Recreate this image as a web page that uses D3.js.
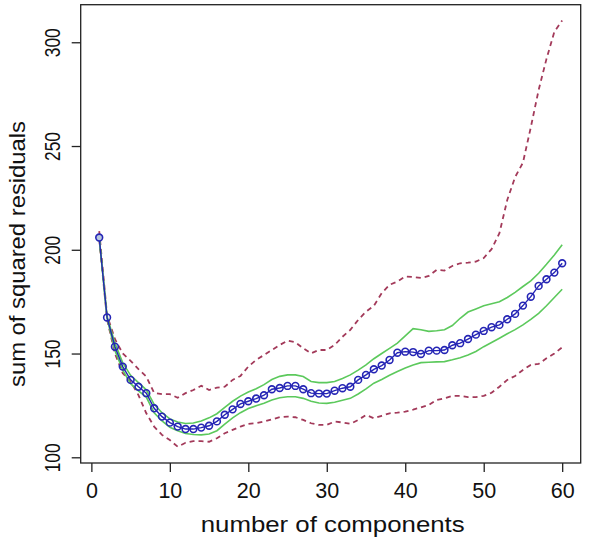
<!DOCTYPE html>
<html>
<head>
<meta charset="utf-8">
<script src="https://cdn.jsdelivr.net/npm/d3@7"></script>
<style>
  html, body { margin: 0; padding: 0; background: #fff; }
  svg { display: block; }
  text { font-family: "Liberation Sans", Arial, sans-serif; fill: #111; }
</style>
</head>
<body>
<svg id="chart" width="600" height="543"></svg>
<script>
// ---- data ----
const components = d3.range(1, 61);
const meanSSR = [205.9, 167.4, 153.3, 143.7, 137.3, 134.0, 130.9, 123.6, 119.6, 116.7,
  114.8, 113.6, 113.6, 114.3, 115.2, 117.3, 120.5, 123.1, 125.7, 127.0,
  128.3, 129.9, 132.8, 133.4, 134.4, 134.4, 132.8, 130.9, 130.7, 130.7,
  132.1, 133.3, 134.0, 137.3, 139.7, 142.4, 144.2, 146.9, 150.4, 150.9,
  150.7, 149.8, 151.4, 151.4, 151.7, 154.0, 155.0, 157.0, 159.1, 160.9,
  162.7, 163.8, 166.5, 169.1, 173.1, 177.4, 182.6, 185.8, 189.0, 193.5];
const upperInner = [206.0, 168.0, 155.0, 145.5, 139.5, 136.0, 132.5, 125.5, 121.5, 118.5,
  117.0, 116.3, 116.5, 117.5, 119.0, 121.0, 124.0, 127.0, 129.5, 131.5,
  133.0, 135.0, 137.5, 139.0, 139.7, 139.7, 138.9, 136.5, 136.0, 136.0,
  136.5, 138.0, 139.7, 142.0, 144.5, 147.5, 150.0, 152.5, 155.0, 158.5,
  162.0, 161.5, 160.7, 161.0, 161.5, 163.5, 167.0, 170.0, 171.5, 173.0,
  174.0, 175.0, 177.0, 179.5, 182.3, 185.0, 188.7, 193.0, 197.5, 202.4];
const lowerInner = [205.8, 167.0, 151.5, 142.0, 135.5, 132.0, 129.0, 121.5, 117.5, 114.5,
  112.8, 111.5, 111.0, 110.8, 111.2, 112.8, 116.0, 119.0, 121.5, 123.5,
  124.8, 126.0, 127.6, 128.7, 129.2, 129.2, 128.4, 127.0, 126.2, 126.0,
  126.5, 127.5, 128.4, 130.5, 133.0, 135.7, 137.5, 139.5, 141.3, 143.0,
  144.5, 145.6, 145.8, 146.0, 146.1, 147.0, 148.0, 149.3, 151.0, 153.3,
  155.3, 157.4, 159.5, 161.5, 163.8, 166.5, 169.4, 173.0, 177.0, 181.0];
const upperOuter = [209.0, 168.5, 157.0, 150.0, 146.5, 142.5, 138.9, 131.0, 130.4, 130.4,
  128.7, 130.9, 132.4, 134.5, 132.4, 133.6, 134.0, 137.3, 139.2, 143.7,
  146.9, 149.3, 151.7, 154.1, 156.2, 155.4, 152.5, 150.1, 151.7, 151.7,
  154.1, 158.1, 161.4, 166.2, 170.2, 173.0, 179.1, 183.1, 184.7, 187.1,
  186.9, 186.4, 187.4, 190.3, 190.0, 192.2, 193.5, 193.8, 194.3, 196.0,
  200.3, 208.0, 224.0, 235.0, 242.0, 259.0, 277.0, 292.0, 305.0, 310.5];
const lowerOuter = [205.0, 166.5, 150.0, 140.5, 136.5, 130.0, 121.2, 114.8, 110.8, 108.3,
  105.1, 107.0, 107.8, 107.8, 107.5, 109.2, 111.6, 113.2, 114.8, 116.1,
  116.4, 117.2, 118.3, 119.3, 119.6, 119.3, 118.0, 116.4, 115.6, 115.6,
  117.2, 116.8, 116.1, 118.0, 120.4, 118.8, 120.0, 121.2, 121.5, 122.0,
  123.0, 124.1, 125.2, 127.6, 128.4, 129.6, 129.6, 129.0, 129.0, 129.6,
  131.1, 134.0, 137.3, 139.2, 142.1, 144.5, 145.0, 147.7, 150.0, 153.0];
const xTicks = [0, 10, 20, 30, 40, 50, 60];
const yTicks = [100, 150, 200, 250, 300];
const xTitle = "number of components";
const yTitle = "sum of squared residuals";

// ---- layout ----
const box = { left: 80.7, right: 580.7, top: 4.7, bottom: 463 };
const svg = d3.select("#chart");

const x = d3.scaleLinear().domain([-1.36, 62.36]).range([box.left, box.right]);
const y = d3.scaleLinear().domain([97.25, 318.1]).range([box.bottom, box.top]);

// lines
const line = d3.line().x((d, i) => x(components[i])).y(d => y(d));

svg.append("path").datum(upperOuter).attr("d", line)
  .attr("fill", "none").attr("stroke", "#a33a5a").attr("stroke-width", 1.8)
  .attr("stroke-dasharray", "5,4");
svg.append("path").datum(lowerOuter).attr("d", line)
  .attr("fill", "none").attr("stroke", "#a33a5a").attr("stroke-width", 1.8)
  .attr("stroke-dasharray", "5,4");
svg.append("path").datum(upperInner).attr("d", line)
  .attr("fill", "none").attr("stroke", "#5cc95c").attr("stroke-width", 1.6);
svg.append("path").datum(lowerInner).attr("d", line)
  .attr("fill", "none").attr("stroke", "#5cc95c").attr("stroke-width", 1.6);
svg.append("path").datum(meanSSR).attr("d", line)
  .attr("fill", "none").attr("stroke", "#2525b5").attr("stroke-width", 1.4);
svg.append("g").selectAll("circle").data(meanSSR).join("circle")
  .attr("cx", (d, i) => x(components[i]))
  .attr("cy", d => y(d))
  .attr("r", 3.4)
  .attr("fill", (d, i) => i === 0 ? "#b8c8e0" : "none")
  .attr("stroke", "#2525b5")
  .attr("stroke-width", 1.6);

// box
svg.append("rect")
  .attr("x", box.left).attr("y", box.top)
  .attr("width", box.right - box.left).attr("height", box.bottom - box.top)
  .attr("fill", "none").attr("stroke", "#222").attr("stroke-width", 1.3);

// x axis
const xAxis = d3.axisBottom(x).tickValues(xTicks).tickSize(9).tickPadding(0).tickFormat(d3.format("d"));
const gx = svg.append("g").attr("transform", `translate(0,${box.bottom})`).call(xAxis);
gx.select(".domain").remove();
gx.selectAll(".tick line").attr("stroke", "#222").attr("stroke-width", 1.3);
gx.selectAll(".tick text")
  .attr("y", 35).attr("dy", null)
  .style("font-size", "21.5px")
  .style("font-family", "'Liberation Sans', Arial, sans-serif")
  .attr("fill", "#111");

// y axis
const yAxis = d3.axisLeft(y).tickValues(yTicks).tickSize(9).tickPadding(0).tickFormat(d3.format("d"));
const gy = svg.append("g").attr("transform", `translate(${box.left},0)`).call(yAxis);
gy.select(".domain").remove();
gy.selectAll(".tick line").attr("stroke", "#222").attr("stroke-width", 1.3);
gy.selectAll(".tick text")
  .attr("x", null).attr("dy", null)
  .attr("text-anchor", "middle")
  .attr("transform", "translate(-21,0) rotate(-90)")
  .attr("textLength", 29).attr("lengthAdjust", "spacingAndGlyphs")
  .style("font-size", "21.5px")
  .style("font-family", "'Liberation Sans', Arial, sans-serif")
  .attr("fill", "#111");

// titles
svg.append("text")
  .attr("x", (box.left + box.right) / 2 + 2).attr("y", 531.5)
  .attr("text-anchor", "middle")
  .attr("textLength", 264).attr("lengthAdjust", "spacingAndGlyphs")
  .style("font-size", "22.5px")
  .text(xTitle);
svg.append("text")
  .attr("transform", `translate(25,254) rotate(-90)`)
  .attr("text-anchor", "middle")
  .attr("textLength", 266).attr("lengthAdjust", "spacingAndGlyphs")
  .style("font-size", "22.5px")
  .text(yTitle);
</script>
</body>
</html>
